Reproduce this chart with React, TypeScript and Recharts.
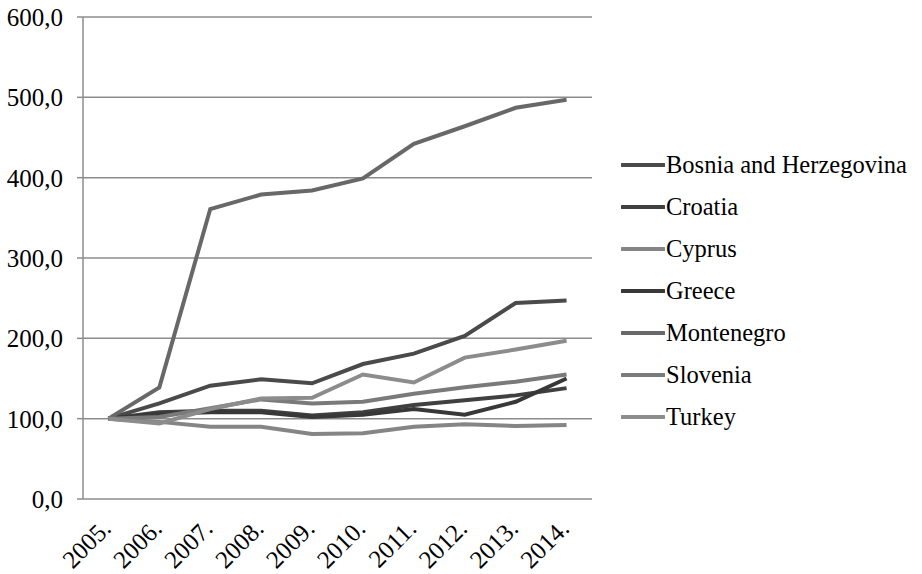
import {
  CartesianGrid,
  Legend,
  Line,
  LineChart,
  XAxis,
  YAxis,
} from "recharts";

const years = ["2005.", "2006.", "2007.", "2008.", "2009.", "2010.", "2011.", "2012.", "2013.", "2014."];

const bosnia = [100, 119, 141, 149, 144, 168, 181, 203, 244, 247];
const croatia = [100, 108, 110, 110, 104, 108, 117, 123, 129, 138];
const cyprus = [100, 96, 90, 90, 81, 82, 90, 93, 91, 92];
const greece = [100, 106, 108, 108, 102, 105, 112, 105, 121, 150];
const montenegro = [100, 139, 361, 379, 384, 399, 442, 464, 487, 497];
const slovenia = [100, 102, 113, 124, 119, 121, 131, 139, 146, 155];
const turkey = [100, 94, 112, 125, 126, 155, 145, 176, 186, 197];

const yTicks = [0, 100, 200, 300, 400, 500, 600];

const series = [
  { key: "bosnia", name: "Bosnia and Herzegovina", values: bosnia, color: "#4a4a4a" },
  { key: "croatia", name: "Croatia", values: croatia, color: "#404040" },
  { key: "cyprus", name: "Cyprus", values: cyprus, color: "#858585" },
  { key: "greece", name: "Greece", values: greece, color: "#383838" },
  { key: "montenegro", name: "Montenegro", values: montenegro, color: "#686868" },
  { key: "slovenia", name: "Slovenia", values: slovenia, color: "#7a7a7a" },
  { key: "turkey", name: "Turkey", values: turkey, color: "#8c8c8c" },
];

const data = years.map((year, i) => {
  const row: Record<string, string | number> = { year, idx: i };
  series.forEach((s) => {
    row[s.key] = s.values[i];
  });
  return row;
});

// category boundaries, for the tick marks between years
const boundaries = years.map((_, i) => i).concat(years.length);

const FONT = '"Liberation Serif", "Times New Roman", serif';
const GRID = "#8c8c8c";
const PLOT_W = 509;
const HALF_BAND = PLOT_W / years.length / 2;

function YearTick({ x, y, payload }: any) {
  return (
    <g transform={`translate(${x + 4},${y + 23})`}>
      <text
        textAnchor="end"
        transform="rotate(-45)"
        fontSize={25}
        fontFamily={FONT}
        fill="#000"
      >
        {payload.value}
      </text>
    </g>
  );
}

function LegendList({ payload }: any) {
  return (
    <div style={{ fontFamily: FONT, fontSize: 24.5, color: "#000" }}>
      {(payload || []).map((p: any) => (
        <div
          key={p.value}
          style={{ display: "flex", alignItems: "center", height: 42 }}
        >
          <svg width={44} height={8} style={{ display: "block" }}>
            <line x1={1} y1={4} x2={43} y2={4} stroke={p.color} strokeWidth={4} strokeLinecap="round" />
          </svg>
          <span style={{ marginLeft: 1, whiteSpace: "nowrap" }}>{p.value}</span>
        </div>
      ))}
    </div>
  );
}

export default function App() {
  return (
    <div style={{ position: "absolute", left: 0, top: 0 }}>
      <LineChart
        width={922}
        height={574}
        data={data}
        margin={{ top: 17, right: 330, left: 0, bottom: 0 }}
        style={{ fontFamily: FONT }}
      >
        <CartesianGrid
          xAxisId="c"
          vertical={false}
          stroke={GRID}
          strokeWidth={1.5}
        />
        <XAxis
          xAxisId="b"
          type="number"
          dataKey="idx"
          domain={[0, years.length]}
          ticks={boundaries}
          height={0}
          tick={() => <g />}
          tickSize={7}
          tickLine={{ stroke: GRID, strokeWidth: 1.5 }}
          axisLine={{ stroke: GRID, strokeWidth: 1.5 }}
        />
        <XAxis
          xAxisId="c"
          dataKey="year"
          height={75}
          interval={0}
          padding={{ left: HALF_BAND, right: HALF_BAND }}
          axisLine={false}
          tickLine={false}
          tick={<YearTick />}
        />
        <YAxis
          domain={[0, 600]}
          ticks={yTicks}
          width={83}
          tickSize={6}
          tickMargin={14}
          tickFormatter={(v: number) => v.toFixed(1).replace(".", ",")}
          tick={{ fontSize: 25, fill: "#000", fontFamily: FONT }}
          tickLine={{ stroke: GRID, strokeWidth: 1.5 }}
          axisLine={{ stroke: GRID, strokeWidth: 1.5 }}
        />
        {series.map((s) => (
          <Line
            key={s.key}
            xAxisId="c"
            type="linear"
            dataKey={s.key}
            name={s.name}
            stroke={s.color}
            strokeWidth={4}
            dot={false}
            activeDot={false}
            isAnimationActive={false}
          />
        ))}
        <Legend
          layout="horizontal"
          align="center"
          verticalAlign="middle"
          content={<LegendList />}
          wrapperStyle={{ left: 621, top: 144, width: 300 }}
        />
      </LineChart>
    </div>
  );
}
